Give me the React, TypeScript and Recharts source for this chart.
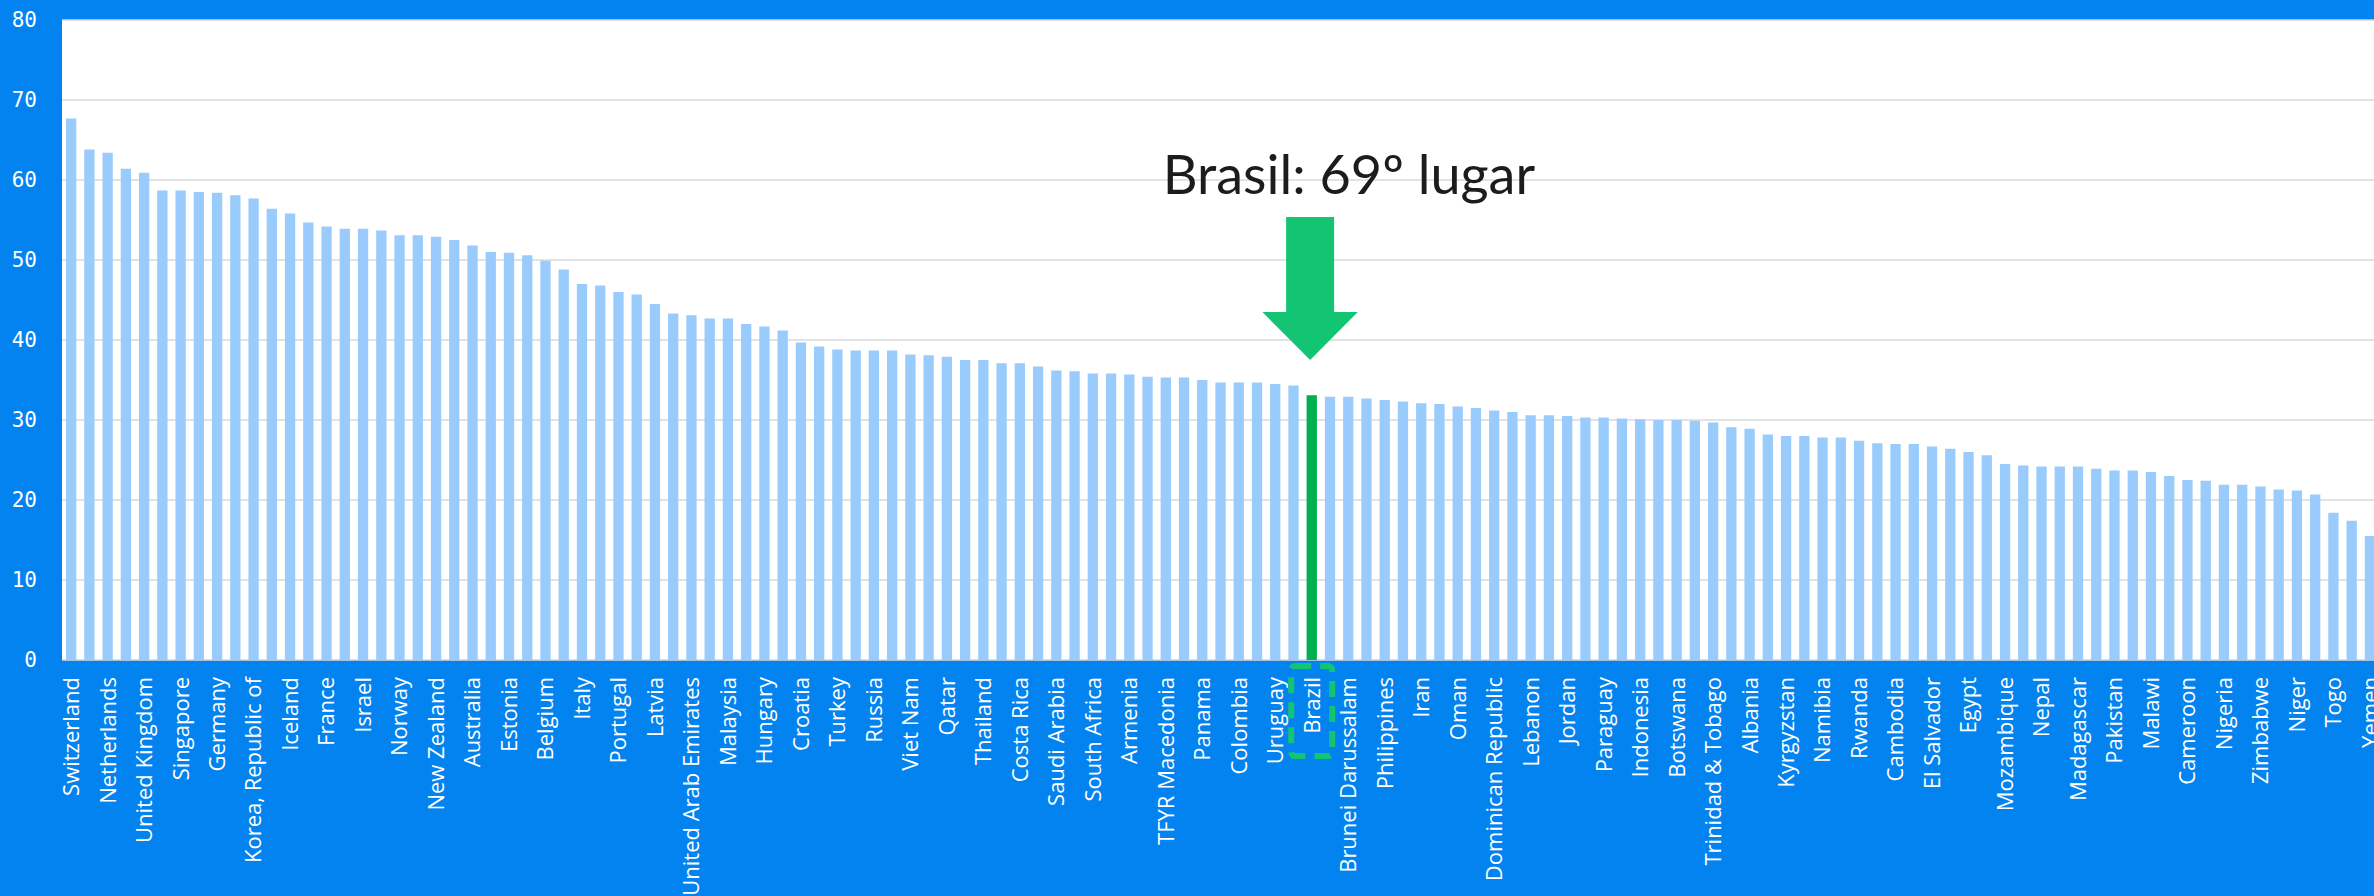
import { BarChart, Bar, XAxis, YAxis, CartesianGrid, Cell, ReferenceDot } from 'recharts';

const countries = [
  'Switzerland', 'Sweden', 'Netherlands', 'United States of America', 'United Kingdom',
  'Denmark', 'Singapore', 'Finland', 'Germany', 'Ireland',
  'Korea, Republic of', 'Luxembourg', 'Iceland', 'Japan', 'France',
  'Hong Kong (China)', 'Israel', 'Canada', 'Norway', 'Austria',
  'New Zealand', 'China', 'Australia', 'Czech Republic', 'Estonia',
  'Malta', 'Belgium', 'Spain', 'Italy', 'Cyprus',
  'Portugal', 'Slovenia', 'Latvia', 'Slovakia', 'United Arab Emirates',
  'Bulgaria', 'Malaysia', 'Poland', 'Hungary', 'Lithuania',
  'Croatia', 'Montenegro', 'Turkey', 'Greece', 'Russia',
  'Chile', 'Viet Nam', 'Romania', 'Qatar', 'Ukraine',
  'Thailand', 'Mongolia', 'Costa Rica', 'Moldova', 'Saudi Arabia',
  'Kuwait', 'South Africa', 'Mexico', 'Armenia', 'India',
  'TFYR Macedonia', 'Serbia', 'Panama', 'Georgia', 'Colombia',
  'Bahrain', 'Uruguay', 'Mauritius', 'Brazil', 'Peru',
  'Brunei Darussalam', 'Morocco', 'Philippines', 'Tunisia', 'Iran',
  'Argentina', 'Oman', 'Kazakhstan', 'Dominican Republic', 'Kenya',
  'Lebanon', 'Azerbaijan', 'Jordan', 'Jamaica', 'Paraguay',
  'Bosnia and Herzegovina', 'Indonesia', 'Guatemala', 'Botswana', 'Sri Lanka',
  'Trinidad & Tobago', 'Ecuador', 'Albania', 'Tanzania', 'Kyrgyzstan',
  'Senegal', 'Namibia', 'Honduras', 'Rwanda', 'Ghana',
  'Cambodia', 'Uganda', 'El Salvador', 'Bangladesh', 'Egypt',
  'Bolivia', 'Mozambique', 'Mali', 'Nepal', 'Algeria',
  'Madagascar', 'Ethiopia', 'Pakistan', 'Burkina Faso', 'Malawi',
  'Benin', 'Cameroon', 'Zambia', 'Nigeria', "Côte d'Ivoire",
  'Zimbabwe', 'Guinea', 'Niger', 'Burundi', 'Togo',
  'Tajikistan', 'Yemen',
];

const scores = [
  67.7, 63.8, 63.4, 61.4, 60.9, 58.7, 58.7, 58.5, 58.4, 58.1,
  57.7, 56.4, 55.8, 54.7, 54.2, 53.9, 53.9, 53.7, 53.1, 53.1,
  52.9, 52.5, 51.8, 51.0, 50.9, 50.6, 49.9, 48.8, 47.0, 46.8,
  46.0, 45.7, 44.5, 43.3, 43.1, 42.7, 42.7, 42.0, 41.7, 41.2,
  39.7, 39.2, 38.8, 38.7, 38.7, 38.7, 38.2, 38.1, 37.9, 37.5,
  37.5, 37.1, 37.1, 36.7, 36.2, 36.1, 35.8, 35.8, 35.7, 35.4,
  35.3, 35.3, 35.0, 34.7, 34.7, 34.7, 34.5, 34.3, 33.1, 32.9,
  32.9, 32.7, 32.5, 32.3, 32.1, 32.0, 31.7, 31.5, 31.2, 31.0,
  30.6, 30.6, 30.5, 30.3, 30.3, 30.2, 30.1, 30.0, 30.0, 29.9,
  29.7, 29.1, 28.9, 28.2, 28.0, 28.0, 27.8, 27.8, 27.4, 27.1,
  27.0, 27.0, 26.7, 26.4, 26.0, 25.6, 24.5, 24.3, 24.2, 24.2,
  24.2, 23.9, 23.7, 23.7, 23.5, 23.0, 22.5, 22.4, 21.9, 21.9,
  21.7, 21.3, 21.2, 20.7, 18.4, 17.4, 15.5,
];

const yTicks = [0, 10, 20, 30, 40, 50, 60, 70, 80];

const highlight = 'Brazil';
const annotation = 'Brasil: 69º lugar';
const arrowTipValue = 37.5;

const data = countries.map((name, i) => ({ name, score: scores[i] }));

const BG = '#0383EF';
const BAR = '#99CCFC';
const GREEN_BAR = '#00B050';
const GREEN = '#13C473';

function CountryTick(props: any) {
  const { x, y, payload } = props;
  const isHighlight = payload.value === highlight;
  return (
    <g transform={`translate(${x},${y})`}>
      {isHighlight && (
        <rect
          x={-20.5}
          y={-11}
          width={41}
          height={90}
          rx={4}
          fill="none"
          stroke={GREEN}
          strokeWidth={6}
          strokeDasharray="16 9"
        />
      )}
      <text
        transform="rotate(-90)"
        textAnchor="end"
        dy="0.36em"
        fill="#fff"
        fontSize={22}
        fontFamily="'Open Sans', sans-serif"
      >
        {payload.value}
      </text>
    </g>
  );
}

function ArrowNote(props: any) {
  const { cx, cy } = props;
  const tx = cx - 1.6;
  const pts = [
    [tx - 24, cy - 143],
    [tx + 24, cy - 143],
    [tx + 24, cy - 48],
    [tx + 47.7, cy - 48],
    [tx, cy],
    [tx - 47.7, cy - 48],
    [tx - 24, cy - 48],
  ]
    .map((p) => p.join(','))
    .join(' ');
  return (
    <g>
      <polygon points={pts} fill={GREEN} />
      <text x={cx - 149} y={cy - 166} fontSize={54} fontFamily="Lato, sans-serif" fill="#1c1c1c">
        {annotation}
      </text>
    </g>
  );
}

export default function App() {
  return (
    <div
      style={{
        position: 'absolute',
        left: 0,
        top: 0,
        width: 2374,
        height: 896,
        overflow: 'hidden',
        background: BG,
      }}
    >
      <BarChart width={2379} height={896} data={data} margin={{ top: 20, right: 0, bottom: 0, left: 0 }}>
        <CartesianGrid vertical={false} fill="#fff" stroke="#d9d9d9" strokeWidth={1.5} fillOpacity={1} />
        <XAxis
          dataKey="name"
          interval={1}
          height={236}
          axisLine={false}
          tickLine={false}
          tickSize={0}
          tickMargin={17}
          tick={<CountryTick />}
        />
        <YAxis
          width={62}
          domain={[0, 80]}
          ticks={yTicks}
          axisLine={false}
          tickLine={false}
          tickSize={0}
          tickMargin={25}
          tick={{ fill: '#fff', fontSize: 21, fontFamily: 'DejaVu Sans Mono, monospace' }}
        />
        <Bar dataKey="score" barSize={10.3} isAnimationActive={false}>
          {data.map((d) => (
            <Cell key={d.name} fill={d.name === highlight ? GREEN_BAR : BAR} />
          ))}
        </Bar>
        <ReferenceDot x={highlight} y={arrowTipValue} ifOverflow="visible" shape={<ArrowNote />} />
      </BarChart>
    </div>
  );
}
